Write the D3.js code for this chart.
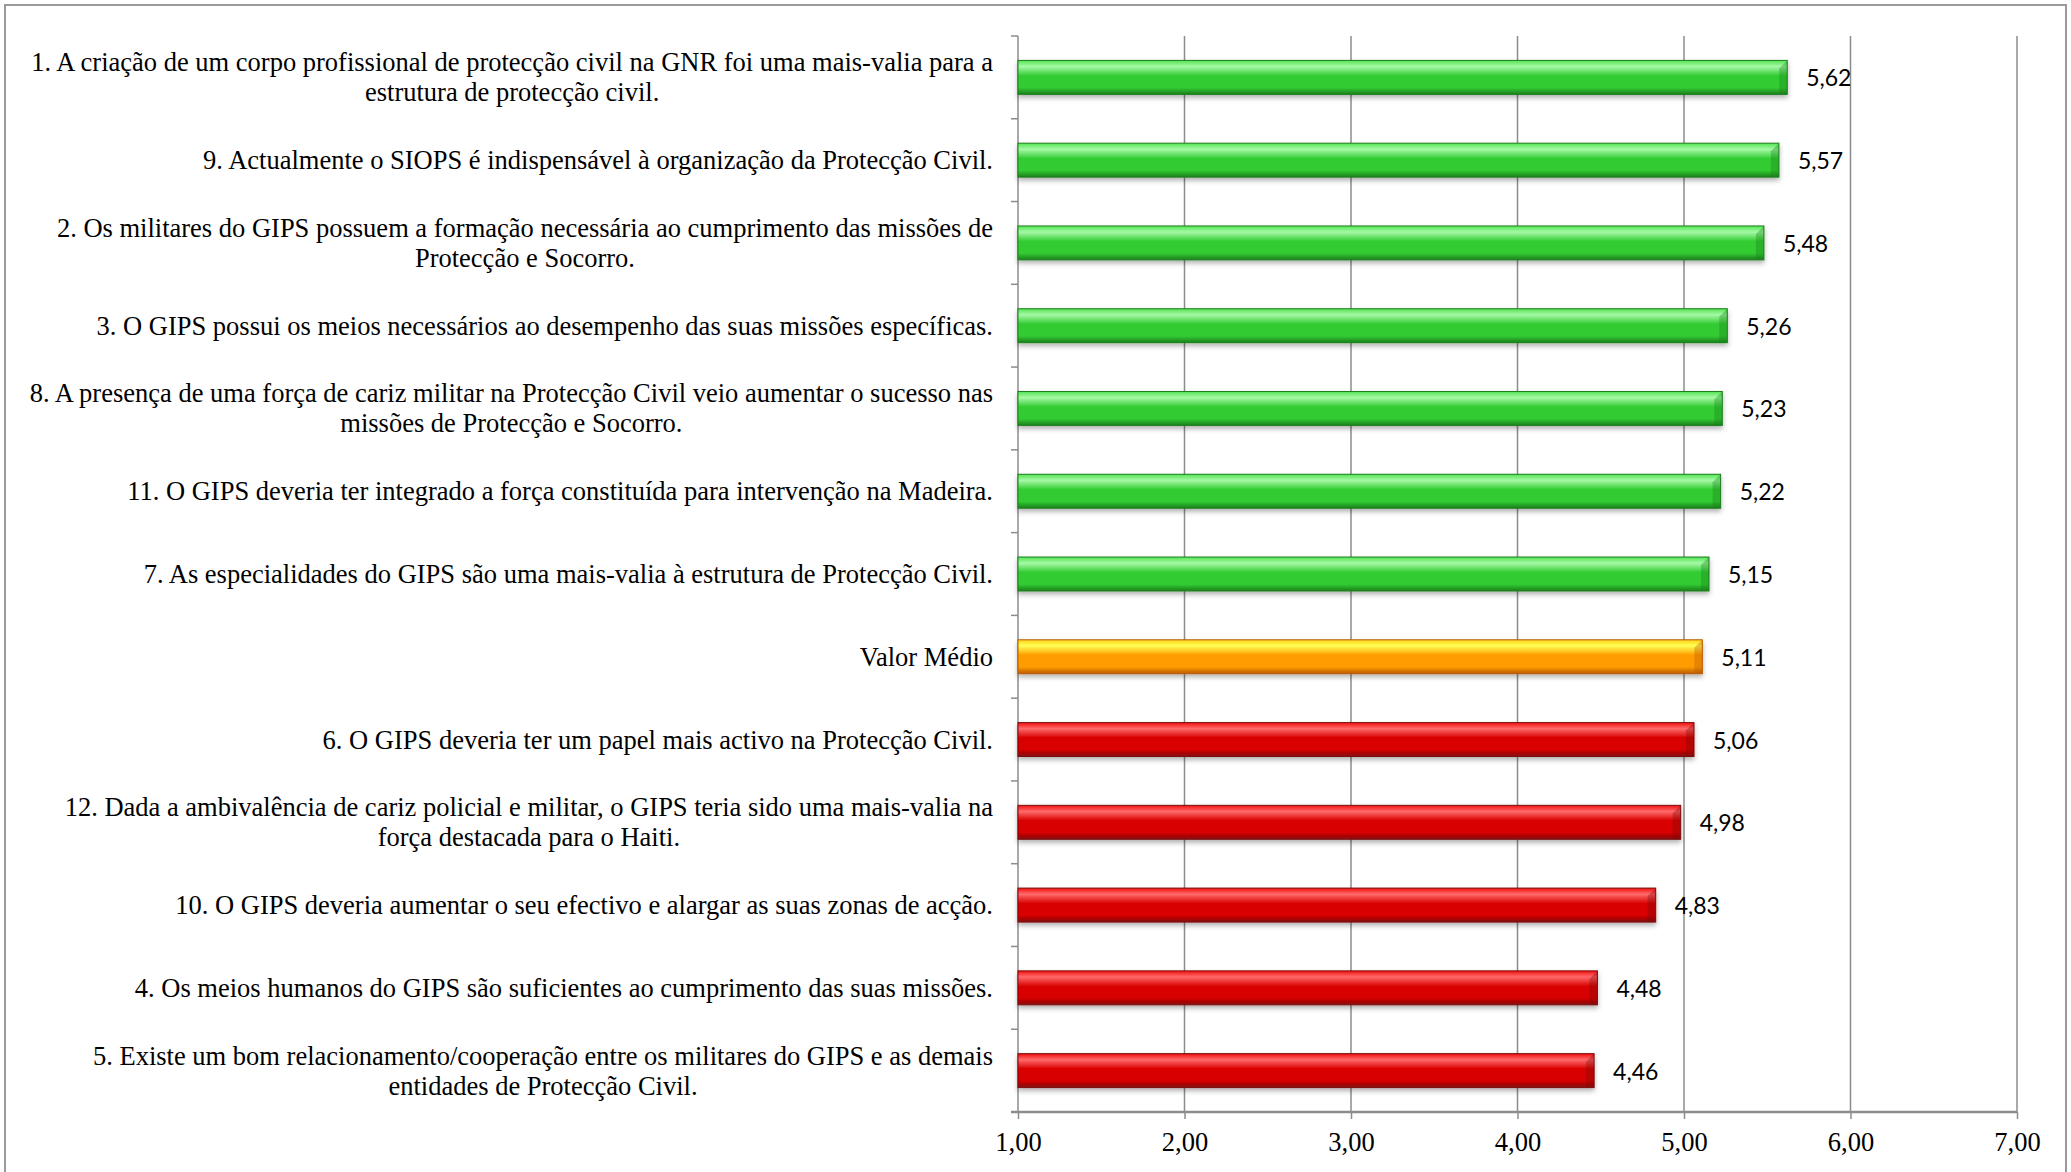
<!DOCTYPE html>
<html>
<head>
<meta charset="utf-8">
<script src="https://cdn.jsdelivr.net/npm/d3@7"></script>
<style>
  body { margin: 0; background: #fff; }
  svg { display: block; }
</style>
</head>
<body>
<svg width="2071" height="1172"></svg>
<script>
// itens do questionário (de cima para baixo), "\n" marca a quebra de linha
const itens = [
    "1. A criação de um corpo profissional de protecção civil na GNR foi uma mais-valia para a\nestrutura de protecção civil.",
    "9. Actualmente o SIOPS é indispensável à organização da Protecção Civil.",
    "2. Os militares do GIPS possuem a formação necessária ao cumprimento das missões de\nProtecção e Socorro.",
    "3. O GIPS possui os meios necessários ao desempenho das suas missões específicas.",
    "8. A presença de uma força de cariz militar na Protecção Civil veio aumentar o sucesso nas\nmissões de Protecção e Socorro.",
    "11. O GIPS deveria ter integrado a força constituída para intervenção na Madeira.",
    "7. As especialidades do GIPS são uma mais-valia à estrutura de Protecção Civil.",
    "Valor Médio",
    "6. O GIPS deveria ter um papel mais activo na Protecção Civil.",
    "12. Dada a ambivalência de cariz policial e militar, o GIPS teria sido uma mais-valia na\nforça destacada para o Haiti.",
    "10. O GIPS deveria aumentar o seu efectivo e alargar as suas zonas de acção.",
    "4. Os meios humanos do GIPS são suficientes ao cumprimento das suas missões.",
    "5. Existe um bom relacionamento/cooperação entre os militares do GIPS e as demais\nentidades de Protecção Civil."
];
const medias = [5.62, 5.57, 5.48, 5.26, 5.23, 5.22, 5.15, 5.11, 5.06, 4.98, 4.83, 4.48, 4.46];
// acima da média, a média, abaixo da média
const grupos = ["acima", "acima", "acima", "acima", "acima", "acima", "acima",
                "media", "abaixo", "abaixo", "abaixo", "abaixo", "abaixo"];
const ticksX = [1, 2, 3, 4, 5, 6, 7];

const formato = v => v.toFixed(2).replace(".", ",");

const svg = d3.select("svg");
const margin = { left: 1018, right: 54, top: 36, bottom: 60 };
const width = 2071, height = 1172;
const gridColor = "#8c8c8c";

// moldura
svg.append("rect")
    .attr("x", 5).attr("y", 5)
    .attr("width", 2061).attr("height", 1200)
    .attr("fill", "none")
    .attr("stroke", "#9a9a9a")
    .attr("stroke-width", 2);

const x = d3.scaleLinear().domain([1, 7]).range([margin.left, width - margin.right]);
const y = d3.scaleBand().domain(d3.range(itens.length))
    .range([margin.top, height - margin.bottom]).paddingInner(0.59).paddingOuter(0.295);
const band = d3.scaleBand().domain(d3.range(itens.length))
    .range([margin.top, height - margin.bottom]);

// gradientes tipo cilindro
const defs = svg.append("defs");
const cores = {
    acima:  ["#a6f9a6", "#52e452", "#33cc33", "#1b7f1b"],
    media:  ["#ffff55", "#ffd21c", "#ff9c00", "#b85a00"],
    abaixo: ["#ff6a6a", "#f01010", "#d80000", "#7e0a0a"]
};
Object.keys(cores).forEach(function (k) {
    let c = cores[k];
    let g = defs.append("linearGradient").attr("id", "grad-" + k)
        .attr("x1", 0).attr("y1", 0).attr("x2", 0).attr("y2", 1);
    g.append("stop").attr("offset", "0%").attr("stop-color", c[1]);
    g.append("stop").attr("offset", "18%").attr("stop-color", c[0]);
    g.append("stop").attr("offset", "45%").attr("stop-color", c[2]);
    g.append("stop").attr("offset", "80%").attr("stop-color", c[2]);
    g.append("stop").attr("offset", "100%").attr("stop-color", c[3]);
});
const sombra = defs.append("filter").attr("id", "sombra")
    .attr("x", "-5%").attr("y", "-30%").attr("width", "110%").attr("height", "180%");
sombra.append("feDropShadow").attr("dx", 0).attr("dy", 3).attr("stdDeviation", 2.5)
    .attr("flood-color", "#000").attr("flood-opacity", 0.3);

// grelha vertical
svg.append("g").selectAll("line")
    .data(ticksX.slice(1))
    .enter().append("line")
    .attr("x1", d => x(d)).attr("x2", d => x(d))
    .attr("y1", margin.top).attr("y2", height - margin.bottom)
    .attr("stroke", gridColor).attr("stroke-width", 1.5);

// eixo Y
svg.append("line")
    .attr("x1", x(1)).attr("x2", x(1))
    .attr("y1", margin.top).attr("y2", height - margin.bottom)
    .attr("stroke", gridColor).attr("stroke-width", 1.5);
svg.append("g").selectAll("line")
    .data(d3.range(itens.length + 1))
    .enter().append("line")
    .attr("x1", x(1) - 7).attr("x2", x(1))
    .attr("y1", d => d < itens.length ? band(d) : band(itens.length - 1) + band.bandwidth())
    .attr("y2", d => d < itens.length ? band(d) : band(itens.length - 1) + band.bandwidth())
    .attr("stroke", gridColor).attr("stroke-width", 1.5);

// eixo X
const eixoX = svg.append("g")
    .attr("transform", "translate(0," + (height - margin.bottom) + ")")
    .call(d3.axisBottom(x).tickValues(ticksX).tickFormat(formato).tickSize(7).tickPadding(13));
eixoX.select(".domain").attr("stroke", gridColor).attr("stroke-width", 2.5)
    .attr("d", "M" + (x(1) - 7) + ",0H" + x(7));
eixoX.selectAll(".tick line").attr("stroke", gridColor).attr("stroke-width", 1.5);
eixoX.selectAll("text")
    .style("font-family", "'Liberation Serif', 'Times New Roman', serif")
    .style("font-size", "26.5px")
    .attr("fill", "#000");

// barras
const barras = svg.append("g").selectAll("g")
    .data(medias)
    .enter().append("g");

barras.append("rect")
    .attr("x", x(1))
    .attr("y", (d, i) => y(i))
    .attr("width", d => x(d) - x(1))
    .attr("height", y.bandwidth())
    .attr("fill", (d, i) => "url(#grad-" + grupos[i] + ")")
    .attr("stroke", (d, i) => cores[grupos[i]][3])
    .attr("stroke-width", 1)
    .attr("filter", "url(#sombra)");

// chanfro na ponta
barras.append("path")
    .attr("d", function (d, i) {
        let x1 = x(d), y0 = y(i), h = y.bandwidth();
        return "M" + (x1 - 8) + "," + (y0 + 8) + "L" + x1 + "," + y0 +
            "L" + x1 + "," + (y0 + h) + "L" + (x1 - 8) + "," + (y0 + h) + "Z";
    })
    .attr("fill", (d, i) => cores[grupos[i]][3])
    .attr("opacity", 0.35);

// valores
barras.append("text")
    .attr("x", d => x(d) + 19)
    .attr("y", (d, i) => y(i) + y.bandwidth() / 2)
    .attr("dominant-baseline", "central")
    .style("font-family", "Lato, 'Open Sans', sans-serif")
    .style("font-size", "23px")
    .attr("fill", "#000")
    .text(formato);

// rótulos das categorias
const rotuloDir = 993;
const alturaLinha = 30;
const rotulos = svg.append("g")
    .style("font-family", "'Liberation Serif', 'Times New Roman', serif")
    .style("font-size", "26.5px")
    .attr("fill", "#000");

itens.forEach(function (t, i) {
    let linhas = t.split("\n");
    let cy = band(i) + band.bandwidth() / 2;
    let txt = rotulos.append("text")
        .attr("text-anchor", "middle")
        .attr("dominant-baseline", "central");
    let spans = linhas.map(function (l, j) {
        return txt.append("tspan")
            .attr("y", cy + (j - (linhas.length - 1) / 2) * alturaLinha)
            .text(l);
    });
    let maior = d3.max(spans, s => s.node().getComputedTextLength());
    spans.forEach(s => s.attr("x", rotuloDir - maior / 2));
});
</script>
</body>
</html>
